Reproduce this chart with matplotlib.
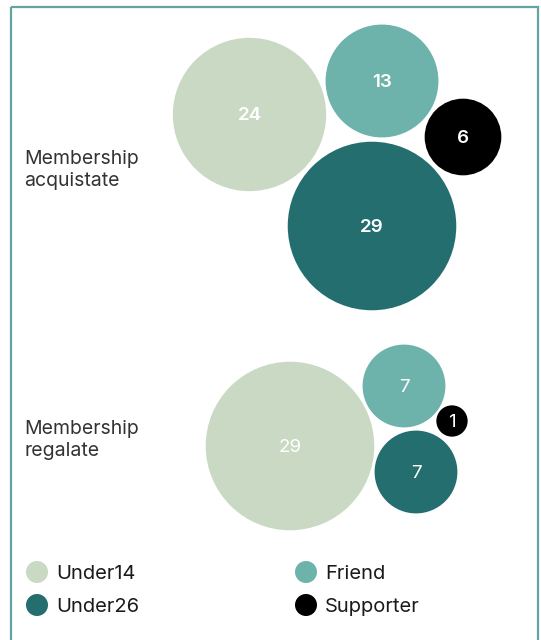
import numpy as np
import matplotlib
matplotlib.use("Agg")
import matplotlib.pyplot as plt
from matplotlib.patches import Circle, Rectangle

plt.rcParams['font.family'] = ['Inter', 'DejaVu Sans']

# data
categories = ["Under14", "Friend", "Supporter", "Under26"]
colors = ["#c9d9c4", "#6db3ac", "#000000", "#246e70"]
acquistate = [24, 13, 6, 29]
regalate = [29, 7, 1, 7]
group_names = ["Membership\nacquistate", "Membership\nregalate"]

# packed layout of the bubbles (pixel space, centres only)
centres_acq = [(249.5, 114.5), (382, 81), (463, 137), (372, 226)]
centres_reg = [(290, 446), (404, 386), (452, 421), (416, 472)]
label_y = [170, 440]

k = 15.65  # pixels per sqrt(value)

fig = plt.figure(figsize=(5.41, 6.4), dpi=100)
ax = fig.add_axes([0, 0, 1, 1])
ax.set_xlim(0, 541)
ax.set_ylim(640, 0)
ax.axis('off')

# frame
ax.add_patch(Rectangle((11, 7), 527, 660, fill=False, edgecolor="#62a3a3", linewidth=1.6))

for vals, centres, weight in [(acquistate, centres_acq, 'semibold'), (regalate, centres_reg, 'normal')]:
    for v, c, col in zip(vals, centres, colors):
        r = k * np.sqrt(v)
        ax.add_patch(Circle(c, r, facecolor=col, edgecolor='none'))
        ax.text(c[0], c[1] + 1.5, str(v), color='white', fontsize=13.5, fontweight=weight,
                ha='center', va='center')

for name, y in zip(group_names, label_y):
    ax.text(24, y, name, color="#333333", fontsize=14, ha='left', va='center', linespacing=1.35)

# legend
leg_pos = {"Under14": (37, 572), "Under26": (37, 605), "Friend": (306, 572), "Supporter": (306, 605)}
for cat, col in zip(categories, colors):
    x, y = leg_pos[cat]
    ax.add_patch(Circle((x, y), 11, facecolor=col, edgecolor='none'))
    ax.text(x + 19, y + 2, cat, color="#1a1a1a", fontsize=14.5, ha='left', va='center')

fig.savefig("out.png", dpi=100)
